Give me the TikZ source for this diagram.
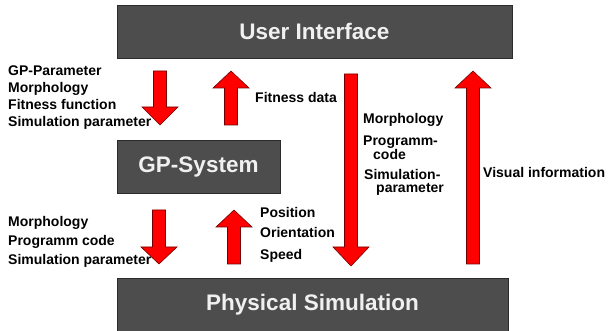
\documentclass[tikz,border=0pt]{standalone}
\usepackage{fontspec}
\setmainfont{Liberation Sans}
\usepackage{xcolor}
\usetikzlibrary{positioning}

\definecolor{boxgray}{HTML}{4D4D4D}
\definecolor{boxedge}{HTML}{2B2B2B}

\tikzset{
	block/.style={draw=boxedge, fill=boxgray, text=white!94!black, line width=0.8pt,
		font=\bfseries\fontsize{22.5}{26}\selectfont, minimum height=53pt, inner sep=0pt},
	lbl/.style={font=\bfseries\fontsize{14}{17}\selectfont, align=left, inner sep=0pt, anchor=base west},
	fatarrow/.style={fill=red, draw=black!55!red, line width=0.6pt, line join=miter}
}

% x, tail y, head base y, tip y
\newcommand{\fatarrow}[4]{
	\draw[fatarrow] (#1-6.5,#2) -- (#1-6.5,#3) -- (#1-18,#3) -- (#1,#4)
		-- (#1+18,#3) -- (#1+6.5,#3) -- (#1+6.5,#2) -- cycle;
}

\begin{document}
\lineskiplimit=-20pt
\begin{tikzpicture}[x=1pt,y=-1pt]
		\useasboundingbox (0,0) rectangle (616,331);
		
		\node[block, minimum width=395pt] (UI) at (314.5,31.5) {User Interface};
		\node[block, minimum width=163pt] (GP) at (198.5,166.5) {GP-System};
		\node[block, minimum width=391pt] (PS) at (312.5,304.5) {Physical Simulation};
		
		%
		\fatarrow{160}{71}{107}{125}
		\fatarrow{231}{125}{88}{71}
		\fatarrow{159}{210}{247}{264}
		\fatarrow{234}{264}{227}{210}
		\fatarrow{351}{74}{247}{266}
		\fatarrow{473}{264}{88}{71}
		
		% multi-line labels sit on their last line
		\node[lbl] (GPin) at (8,127) {GP-Parameter\\Morphology\\Fitness function\\Simulation parameter};
		\node[lbl] (fit) at (255,103) {Fitness data};
		\node[lbl, font=\bfseries\fontsize{14}{19}\selectfont] (PSin) at (8,265) {Morphology\\Programm code\\Simulation parameter};
		\node[lbl, font=\bfseries\fontsize{14}{21}\selectfont] (PSout) at (260,259) {Position\\Orientation\\Speed};
		\node[lbl, font=\bfseries\fontsize{14}{13.5}\selectfont] (UIout) at (363,193)
			{Morphology\\[8.5pt]Programm-\\ \hspace*{10pt}code\\[6.5pt] \hspace*{1pt}Simulation-\\ \hspace*{13pt}parameter};
		\node[lbl] (vis) at (483,178) {Visual information};
		
	\end{tikzpicture}
\end{document}
